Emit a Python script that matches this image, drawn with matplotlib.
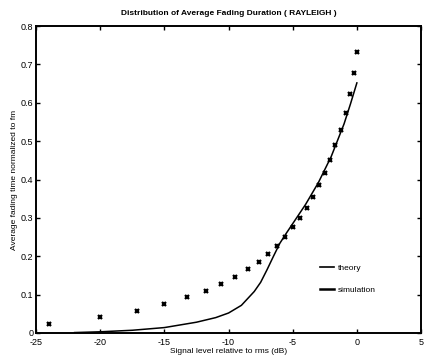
import matplotlib
matplotlib.use("Agg")
import matplotlib.pyplot as plt
from matplotlib.lines import Line2D
import numpy as np

# theory curve
theory_x = [-22, -20, -17.5, -15, -12.5, -11, -10, -9, -8.5, -8, -7.5, -7, -6.5,
            -6, -5.5, -5, -4, -3, -2, -1, -0.5, 0]
theory_y = [0.001, 0.003, 0.007, 0.014, 0.028, 0.040, 0.052, 0.072, 0.090, 0.108,
            0.132, 0.165, 0.200, 0.234, 0.260, 0.285, 0.335, 0.392, 0.460, 0.545,
            0.597, 0.652]

# simulation points
sim_x = [-24, -20, -17.1, -15, -13.25, -11.75, -10.6, -9.5, -8.5, -7.65, -6.95,
         -6.25, -5.6, -4.95, -4.45, -3.9, -3.4, -2.92, -2.45, -2.1, -1.7, -1.25,
         -0.85, -0.5, -0.2, 0.0]
sim_y = [0.023, 0.041, 0.058, 0.076, 0.093, 0.110, 0.128, 0.147, 0.166, 0.186,
         0.207, 0.227, 0.249, 0.277, 0.301, 0.326, 0.355, 0.387, 0.416, 0.452,
         0.489, 0.530, 0.574, 0.623, 0.677, 0.733]

xticks = [-25, -20, -15, -10, -5, 0, 5]
yticks = [0, 0.1, 0.2, 0.3, 0.4, 0.5, 0.6, 0.7, 0.8]

plt.rcParams['font.family'] = ['Liberation Sans', 'DejaVu Sans']

fig = plt.figure(figsize=(4.46, 3.58), dpi=100)
ax = fig.add_axes([0.081, 0.070, 0.863, 0.857])

ax.plot(theory_x, theory_y, color='black', lw=1.1)
ax.plot(sim_x, sim_y, ls='none', marker='x', ms=3, mew=1.6, color='black')

ax.set_xlim(-25, 5)
ax.set_ylim(0, 0.8)
ax.set_xticks(xticks)
ax.set_xticklabels([str(t) for t in xticks])
ax.set_yticks(yticks)
ax.set_yticklabels(['0'] + [f'{t:.1f}' for t in yticks[1:]])
ax.tick_params(direction='in', length=3, width=1, top=True, right=True,
               labelsize=6.5, pad=2)
ax.tick_params(axis='x', pad=3.5)
for s in ax.spines.values():
    s.set_linewidth(1.4)

ax.set_title('Distribution of Average Fading Duration ( RAYLEIGH )',
             fontsize=6, fontweight='bold', pad=8)
ax.set_xlabel('Signal level relative to rms (dB)', fontsize=6, labelpad=1)
ax.set_ylabel('Average fading time normalized to fm', fontsize=6, labelpad=2)

handles = [Line2D([], [], color='black', lw=1.2),
           Line2D([], [], color='black', lw=1.8)]
ax.legend(handles, ['theory', 'simulation'], loc='upper left',
          bbox_to_anchor=(0.738, 0.225), frameon=False, fontsize=6,
          borderpad=0, borderaxespad=0,
          handlelength=1.6, handletextpad=0.5, labelspacing=1.75)

fig.savefig('out.png', dpi=100)
